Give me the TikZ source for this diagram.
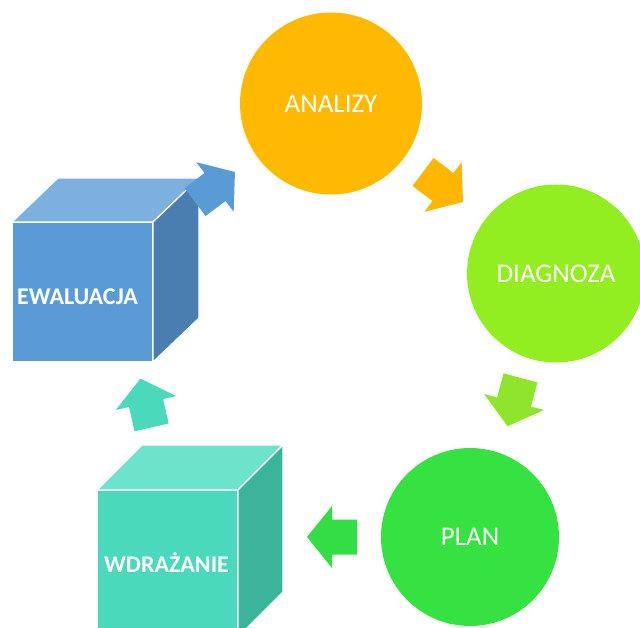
\documentclass[tikz,border=0pt]{standalone}
\usepackage{fontspec}
\setmainfont{Carlito}
\usetikzlibrary{calc}

% palette
\definecolor{amber}{HTML}{FFBA00}
\definecolor{amberarrow}{HTML}{FFB600}
\definecolor{lime}{HTML}{92EE20}
\definecolor{limearrow}{HTML}{8EE52C}
\definecolor{grass}{HTML}{36E241}
\definecolor{grassarrow}{HTML}{33DE44}
\definecolor{bluefront}{HTML}{5B9BD5}
\definecolor{bluetop}{HTML}{7DAFDF}
\definecolor{blueside}{HTML}{4A7EB0}
\definecolor{tealfront}{HTML}{4AD9BA}
\definecolor{tealtop}{HTML}{6DE3CB}
\definecolor{tealside}{HTML}{3BB59A}

\tikzset{
  stage/.style={circle, minimum size=#1, inner sep=0pt, outer sep=0pt,
    text=white, font=\fontsize{27}{30}\selectfont},
  cubefront/.style={rectangle, draw=white, line width=1.2pt, inner sep=0pt,
    outer sep=0pt},
  cubeface/.style={draw=white, line width=1.2pt, line join=round},
  cubelabel/.style={text=white, inner sep=0pt,
    font=\bfseries\fontsize{24}{28}\selectfont},
}

% block arrow: centre, direction angle, colour
\newcommand\blockarrow[3]{%
  \fill[#3, shift={#1}, rotate=#2]
    (-25,-17.5) -- (0,-17.5) -- (0,-31) -- (25,0) -- (0,31) -- (0,17.5)
    -- (-25,17.5) -- cycle;}

\begin{document}
\begin{tikzpicture}[x=1pt, y=-1pt]
  \useasboundingbox (0,0) rectangle (640,628);
  \clip (0,0) rectangle (640,628);

  % circular stages
  \node[stage=182, fill=amber] (analizy) at (331,103.5) {ANALIZY};
  \node[stage=178, fill=lime] (diagnoza) at (556,273.5) {DIAGNOZA};
  \node[stage=178, fill=grass] (plan) at (470,537) {PLAN};

  % EWALUACJA cube
  \node[cubefront, fill=bluefront, minimum width=141, minimum height=140]
    (ewal) at (82.5,292) {};
  \path[cubeface, fill=bluetop] (ewal.north west) -- ++(46,-44) -- ++(141,0)
    -- (ewal.north east) -- cycle;
  \path[cubeface, fill=blueside] (ewal.north east) -- ++(46,-44) -- ++(0,140)
    -- (ewal.south east) -- cycle;
  \node[cubelabel] (ewaltext) at (77.5,297) {EWALUACJA};

  % WDRAŻANIE cube
  \node[cubefront, fill=tealfront, minimum width=141, minimum height=147]
    (wdr) at (167.5,563.5) {};
  \path[cubeface, fill=tealtop] (wdr.north west) -- ++(45,-45) -- ++(141,0)
    -- (wdr.north east) -- cycle;
  \path[cubeface, fill=tealside] (wdr.north east) -- ++(45,-45) -- ++(0,147)
    -- (wdr.south east) -- cycle;
  \node[cubelabel] (wdrtext) at (166.5,562) {WDRAŻANIE};

  % cycle arrows
  \blockarrow{(443,187)}{-37}{amberarrow}
  \blockarrow{(514,402)}{-105}{limearrow}
  \blockarrow{(332,537)}{180}{grassarrow}
  \blockarrow{(146,403)}{103}{tealfront}
  \blockarrow{(215,187)}{37}{bluefront}
\end{tikzpicture}
\end{document}
